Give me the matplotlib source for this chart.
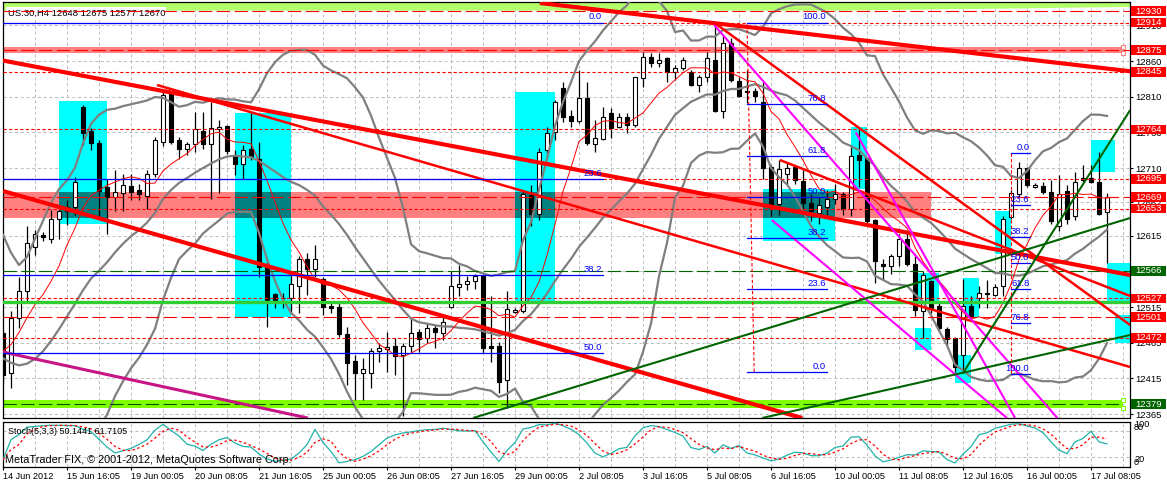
import numpy as np
import matplotlib
matplotlib.use("Agg")
import matplotlib.pyplot as plt
from matplotlib.patches import Rectangle
from matplotlib.transforms import blended_transform_factory as btf

plt.rcParams['font.family'] = ['Liberation Sans', 'DejaVu Sans']

# ---------------- data (US.30, H4) ----------------
opens = [12478, 12422, 12499, 12537, 12599, 12616, 12611, 12639, 12650, 12656,
         12796, 12762, 12745, 12683, 12669, 12675, 12685, 12679, 12671, 12702,
         12747, 12815, 12749, 12736, 12743, 12762, 12744, 12764, 12769, 12727,
         12716, 12736, 12723, 12571, 12533, 12527, 12527, 12545, 12583, 12569,
         12555, 12516, 12515, 12477, 12439, 12423, 12422, 12454, 12456, 12460,
         12448, 12460, 12480, 12472, 12486, 12479, 12515, 12543, 12548, 12552,
         12558, 12460, 12460, 12412, 12508, 12510, 12672, 12646, 12735, 12760,
         12822, 12783, 12776, 12808, 12744, 12750, 12787, 12768, 12782, 12770,
         12836, 12866, 12857, 12864, 12844, 12850, 12845, 12826, 12838, 12862,
         12790, 12885, 12832, 12818, 12818, 12803, 12712, 12660, 12702, 12712,
         12692, 12661, 12647, 12656, 12666, 12674, 12653, 12728, 12724, 12637,
         12576, 12572, 12586, 12611, 12576, 12509, 12551, 12516, 12484, 12471,
         12448, 12516, 12527, 12533, 12532, 12544, 12641, 12674, 12710, 12684,
         12685, 12677, 12628, 12678, 12642, 12693, 12696, 12691, 12648]
highs = [12482, 12510, 12557, 12629, 12623, 12620, 12651, 12656, 12665, 12698,
         12798, 12766, 12749, 12695, 12707, 12702, 12702, 12688, 12707, 12754,
         12817, 12817, 12754, 12747, 12789, 12789, 12803, 12778, 12770, 12735,
         12742, 12787, 12747, 12581, 12534, 12534, 12562, 12586, 12591, 12602,
         12557, 12524, 12524, 12487, 12448, 12443, 12458, 12464, 12480, 12471,
         12464, 12501, 12484, 12492, 12490, 12501, 12565, 12574, 12558, 12561,
         12560, 12530, 12466, 12537, 12513, 12679, 12686, 12738, 12768, 12805,
         12831, 12791, 12847, 12831, 12777, 12796, 12794, 12787, 12787, 12838,
         12873, 12871, 12871, 12865, 12854, 12866, 12847, 12840, 12873, 12914,
         12896, 12892, 12838, 12847, 12822, 12831, 12714, 12721, 12717, 12714,
         12707, 12674, 12670, 12679, 12688, 12677, 12740, 12768, 12726, 12639,
         12583, 12590, 12618, 12621, 12586, 12565, 12553, 12520, 12487, 12473,
         12555, 12530, 12544, 12553, 12548, 12642, 12679, 12719, 12712, 12689,
         12691, 12693, 12700, 12686, 12705, 12714, 12714, 12733, 12675]
lows = [12409, 12402, 12485, 12520, 12588, 12607, 12605, 12611, 12630, 12644,
        12742, 12735, 12639, 12618, 12649, 12649, 12665, 12665, 12653, 12698,
        12741, 12744, 12722, 12728, 12733, 12737, 12667, 12675, 12730, 12700,
        12695, 12721, 12557, 12487, 12513, 12513, 12508, 12506, 12532, 12557,
        12504, 12506, 12473, 12406, 12384, 12384, 12401, 12438, 12424, 12420,
        12362, 12452, 12452, 12464, 12457, 12469, 12513, 12530, 12539, 12541,
        12450, 12438, 12394, 12373, 12506, 12506, 12628, 12637, 12731, 12749,
        12775, 12768, 12773, 12742, 12733, 12749, 12752, 12766, 12759, 12768,
        12824, 12852, 12852, 12831, 12833, 12847, 12825, 12817, 12831, 12789,
        12780, 12831, 12810, 12801, 12802, 12695, 12642, 12644, 12688, 12688,
        12649, 12635, 12632, 12642, 12660, 12644, 12642, 12683, 12632, 12549,
        12553, 12562, 12572, 12572, 12502, 12471, 12506, 12480, 12462, 12424,
        12422, 12502, 12513, 12513, 12530, 12530, 12639, 12670, 12684, 12682,
        12674, 12632, 12621, 12632, 12637, 12691, 12689, 12644, 12577]
closes = [12420, 12500, 12537, 12605, 12617, 12613, 12639, 12649, 12656, 12690,
          12759, 12745, 12678, 12669, 12677, 12686, 12677, 12673, 12702, 12749,
          12813, 12747, 12737, 12744, 12764, 12744, 12766, 12767, 12734, 12715,
          12735, 12726, 12571, 12525, 12525, 12528, 12547, 12582, 12569, 12583,
          12515, 12513, 12477, 12437, 12422, 12428, 12453, 12457, 12459, 12446,
          12460, 12478, 12470, 12485, 12480, 12494, 12544, 12548, 12552, 12558,
          12458, 12458, 12410, 12512, 12511, 12674, 12646, 12733, 12759, 12802,
          12781, 12776, 12808, 12745, 12752, 12781, 12766, 12781, 12770, 12837,
          12866, 12857, 12862, 12845, 12850, 12861, 12826, 12837, 12864, 12790,
          12885, 12833, 12811, 12816, 12811, 12710, 12658, 12708, 12710, 12693,
          12661, 12649, 12658, 12667, 12674, 12653, 12727, 12721, 12635, 12579,
          12572, 12586, 12611, 12576, 12511, 12560, 12512, 12485, 12470, 12431,
          12516, 12502, 12534, 12534, 12543, 12639, 12675, 12710, 12686, 12686,
          12677, 12635, 12674, 12638, 12691, 12696, 12691, 12646, 12670]
# closes before the first visible bar (feed the indicators)
prior_closes = [12625, 12610, 12560, 12480, 12400, 12350, 12320, 12300, 12330, 12380,
                12420, 12460, 12430, 12400, 12440, 12470, 12500, 12490, 12478]

date_labels = ['14 Jun 2012', '15 Jun 16:05', '19 Jun 00:05', '20 Jun 08:05', '21 Jun 16:05',
               '25 Jun 00:05', '26 Jun 08:05', '27 Jun 16:05', '29 Jun 00:05', '2 Jul 08:05',
               '3 Jul 16:05', '5 Jul 08:05', '6 Jul 16:05', '10 Jul 00:05', '11 Jul 08:05',
               '12 Jul 16:05', '16 Jul 00:05', '17 Jul 08:05']
price_ticks = [12365, 12415, 12465, 12515, 12565, 12615, 12662, 12710, 12760, 12810, 12860, 12910]

red_levels = [12930, 12914, 12875, 12845, 12764, 12695, 12669, 12653, 12527, 12501, 12472]
green_levels = [12566, 12379]
red_long_dash = [12930, 12875, 12669, 12501]
red_short_dash = [12914, 12845, 12764, 12695, 12653, 12527, 12472]

# zones: (bar_from, bar_to, price_low, price_high)
salmon_zones = [(0, 140, 12871, 12880), (0, 116, 12640, 12676)]
cyan_zones = [(7, 13, 12631, 12804), (29, 36, 12501, 12787), (64, 69, 12524, 12816),
              (95, 104, 12608, 12680), (106, 108, 12681, 12768), (124, 126, 12590, 12649),
              (114, 117, 12522, 12563), (114, 116, 12455, 12486), (120, 122, 12501, 12556),
              (119, 121, 12408, 12448), (136, 139, 12705, 12749), (138, 141, 12521, 12577),
              (139, 141, 12465, 12504)]

# trend lines: (bar1, price1, bar2, price2)
thick_red_lines = [(67.1, 12941.4, 140.9, 12845.7), (0, 12860.7, 140.9, 12559.9),
                   (0, 12677.7, 99.9, 12359.4)]
thin_red_lines = [(19.25, 12826.4, 140.9, 12430.9), (88.9, 12913.8, 140.9, 12489.8),
                  (97.1, 12721.2, 140.9, 12530.5)]
magenta_lines = [(88.9, 12910.5, 131.8, 12359.4), (106.6, 12760, 126.5, 12359.4),
                 (96.1, 12637, 125.5, 12359.4)]
green_lines = [(58.75, 12359.4, 140.9, 12639.9), (94.9, 12359.4, 140.9, 12475.8),
               (120, 12422.5, 140.9, 12791.3)]
purple_lines = [(0, 12451.9, 38.1, 12359.4)]

# fibonacci retracements: (bar_from, bar_to, price_0, price_100, levels)
fibs = [(0, 75, 12914, 11986, [0.0, 23.6, 38.2, 50.0]),
        (93, 103, 12424, 12914, [0.0, 23.6, 38.2, 50.0, 61.8, 76.8, 100.0]),
        (126, 128.4, 12731.5, 12421, [0.0, 23.6, 38.2, 50.0, 61.8, 76.8, 100.0])]

# ---------------- indicators ----------------
O = np.array(opens, float); Hh = np.array(highs, float)
Ll = np.array(lows, float); C = np.array(closes, float)
n = len(C)
xs = np.arange(n)
allc = np.concatenate([np.array(prior_closes, float), C])
npr = len(prior_closes)
bb_mid = np.array([allc[max(0, i + npr - 19): i + npr + 1].mean() for i in range(n)])
bb_sd = np.array([allc[max(0, i + npr - 19): i + npr + 1].std() for i in range(n)])
ma8 = np.array([allc[max(0, i + npr - 7): i + npr + 1].mean() for i in range(n)])

hh = np.array([Hh[max(0, i - 4): i + 1].max() for i in range(n)])
ll = np.array([Ll[max(0, i - 4): i + 1].min() for i in range(n)])
num = C - ll; den = hh - ll
k = np.array([100 * num[max(0, i - 2): i + 1].sum() / max(den[max(0, i - 2): i + 1].sum(), 1e-9)
              for i in range(n)])
d = np.array([k[max(0, i - 2): i + 1].mean() for i in range(n)])

# ---------------- figure ----------------
W, Hpx = 1167, 483
fig = plt.figure(figsize=(W / 100, Hpx / 100), dpi=100)
fig.patch.set_facecolor('white')
fx = lambda x: x / W
fy = lambda y: 1 - y / Hpx
ax = fig.add_axes([fx(3), fy(418), fx(1130) - fx(3), fy(2) - fy(418)])
ax2 = fig.add_axes([fx(3), fy(466.7), fx(1130) - fx(3), fy(421.5) - fy(466.7)])

XMAX = 140.875
ax.set_xlim(0, XMAX)
ax.set_ylim(12359.4, 12942.8)
for a in (ax, ax2):
    for s in a.spines.values():
        s.set_linewidth(0.9)
        s.set_color('black')

grid_kw = dict(color='#c0c0c0', lw=0.75, dashes=(3, 2.5), zorder=0.5)
for gx in range(0, 141, 4):
    ax.axvline(gx, **grid_kw)
    ax2.axvline(gx, **grid_kw)
for t in price_ticks:
    ax.axhline(t, **grid_kw)

# top green zone
ax.fill_between([0, 105, XMAX], [12931.5, 12931.5, 12936.5], 12960, color='#b3ff6b', lw=0, zorder=0.8)

# zones
def rect(a, x0, x1, y0, y1, c, z):
    a.add_patch(Rectangle((x0, y0), x1 - x0, y1 - y0, facecolor=c, edgecolor='none', zorder=z))

for (x0, x1, y0, y1) in salmon_zones:
    rect(ax, x0, x1, y0, y1, '#ff8080', 1)
ax.fill_between([0, 140], 12373, 12385, color='#7fff00', lw=0, zorder=1)
for (x0, x1, y0, y1) in cyan_zones:
    rect(ax, x0, x1, y0, y1, '#00ffff', 1.1)
    for (sx0, sx1, sy0, sy1) in salmon_zones:
        ix0, ix1 = max(x0, sx0), min(x1, sx1)
        iy0, iy1 = max(y0, sy0), min(y1, sy1)
        if ix1 > ix0 and iy1 > iy0:
            rect(ax, ix0, ix1, iy0, iy1, '#008080', 1.2)

# candles
up = C >= O
ax.vlines(xs, Ll, Hh, color='black', lw=0.9, zorder=3)
body_lo = np.minimum(O, C)
body_h = np.maximum(np.abs(C - O), 0.8)
ax.bar(xs, body_h, bottom=body_lo, width=0.6,
       color=np.where(up, 'white', 'black'), edgecolor='black', linewidth=0.8, zorder=3.2)

# indicators
gray = '#7f7f7f'
for yv in (bb_mid, bb_mid + 2 * bb_sd, bb_mid - 2 * bb_sd):
    ax.plot(xs, yv, color=gray, lw=1.6, zorder=4, solid_joinstyle='round')
ax.plot(xs, ma8, color='red', lw=0.7, zorder=4.1)

# horizontal levels
for p in red_long_dash:
    ax.axhline(p, color='red', lw=0.8, dashes=(12, 4), zorder=5)
for p in red_short_dash:
    ax.axhline(p, color='red', lw=0.8, dashes=(3, 2), zorder=5)
ax.axhline(12566, color='#006400', lw=0.8, dashes=(12, 4), zorder=5)
ax.axhline(12522, color='#32cd32', lw=2.4, zorder=5)
ax.plot([0, 140], [12379, 12379], color='#005000', lw=0.8, dashes=(12, 4), zorder=5)

# selection handles on the band objects
ax.plot([140, 140], [12871, 12880], ls='none', marker='s', ms=3.2, mfc='white', mec='#ff8080',
        mew=0.8, zorder=7, clip_on=False)
ax.plot([140, 140], [12373, 12385], ls='none', marker='s', ms=3.2, mfc='white', mec='#7fff00',
        mew=0.8, zorder=7, clip_on=False)

# trend lines
def tl(seg, c, lw, z=6):
    x0, y0, x1, y1 = seg
    ax.plot([x0, x1], [y0, y1], color=c, lw=lw, zorder=z, solid_capstyle='butt')

for s in thick_red_lines:
    tl(s, 'red', 3.0)
for s in thin_red_lines:
    tl(s, 'red', 1.8)
for s in magenta_lines:
    tl(s, '#ff00ff', 1.5)
for s in green_lines:
    tl(s, '#006400', 1.5)
for s in purple_lines:
    tl(s, '#c71585', 2.2)

# fibonacci
for (b0, b1, p0, p100, levels) in fibs:
    for lv in levels:
        p = p0 + (p100 - p0) * lv / 100.0
        ax.plot([b0, b1], [p, p], color='#0000ff', lw=0.9, zorder=6.5)
        ax.text(b1 - 0.1, p + 1.5, f'{lv:.1f}', color='#0000ff', fontsize=6.8,
                ha='right', va='bottom', zorder=6.6)
    if b0 > 0:
        ax.plot([b0 + (0.9 if b0 == 93 else 0), b0],
                [p0 + (p100 - p0) * min(levels) / 100, p0 + (p100 - p0) * max(levels) / 100],
                color='red', lw=0.8, dashes=(3, 2), zorder=6.4)

# title
ax.text(0.004, 0.984, 'US.30,H4 12648 12675 12577 12670', transform=ax.transAxes,
        fontsize=6.8, ha='left', va='top', zorder=4.5,
        bbox=dict(boxstyle='square,pad=0.15', fc='white', ec='none'))

# right axis
ax.yaxis.tick_right()
ax.set_yticks(price_ticks)
ax.set_yticklabels([str(t) for t in price_ticks])
ax.tick_params(axis='y', length=2.5, width=0.8, pad=1.5, labelsize=6.8, colors='black')
ax.set_xticks([])

tr = btf(fig.transFigure, ax.transData)
for p in red_levels + green_levels:
    c = '#ff0000' if p in red_levels else '#006400'
    r = Rectangle((fx(1131), p - 6.8), fx(1166) - fx(1131), 13.6, transform=tr,
                  facecolor=c, edgecolor='none', zorder=20, clip_on=False)
    ax.add_artist(r)
    ax.text(fx(1148.5), p, str(p), transform=tr, color='white', fontsize=6.8,
            ha='center', va='center', zorder=21, clip_on=False)

# stochastic
ax2.set_xlim(0, XMAX)
ax2.set_ylim(-1.5, 102)
for lvl in (80, 20):
    ax2.axhline(lvl, **grid_kw)
ax2.plot(xs, k, color='#20b2aa', lw=0.9, zorder=3)
ax2.plot(xs, d, color='red', lw=0.9, dashes=(2, 2), zorder=3)
ax2.set_yticks([])
ax2.set_xticks(np.arange(0, 8 * len(date_labels), 8))
ax2.set_xticklabels(date_labels, ha='left', fontsize=6.6)
ax2.tick_params(axis='x', length=2.5, width=0.8, pad=1.5)
ax2.text(0.004, 0.78, 'Stoch(5,3,3) 50.1441 61.7105', transform=ax2.transAxes,
         fontsize=6.5, ha='left', va='center')
ax2.text(0.002, 0.15, 'MetaTrader FIX, \u00a9 2001-2012, MetaQuotes Software Corp.',
         transform=ax2.transAxes, fontsize=7.8, ha='left', va='center', color='black')
tr2 = btf(fig.transFigure, ax2.transData)
for lab, yv in (('100', 96), ('80', 88), ('20', 16), ('0', 9)):
    ax2.text(fx(1134), yv, lab, transform=tr2, fontsize=6.6, ha='left', va='center', clip_on=False)

fig.savefig('out.png', dpi=100, facecolor='white')
